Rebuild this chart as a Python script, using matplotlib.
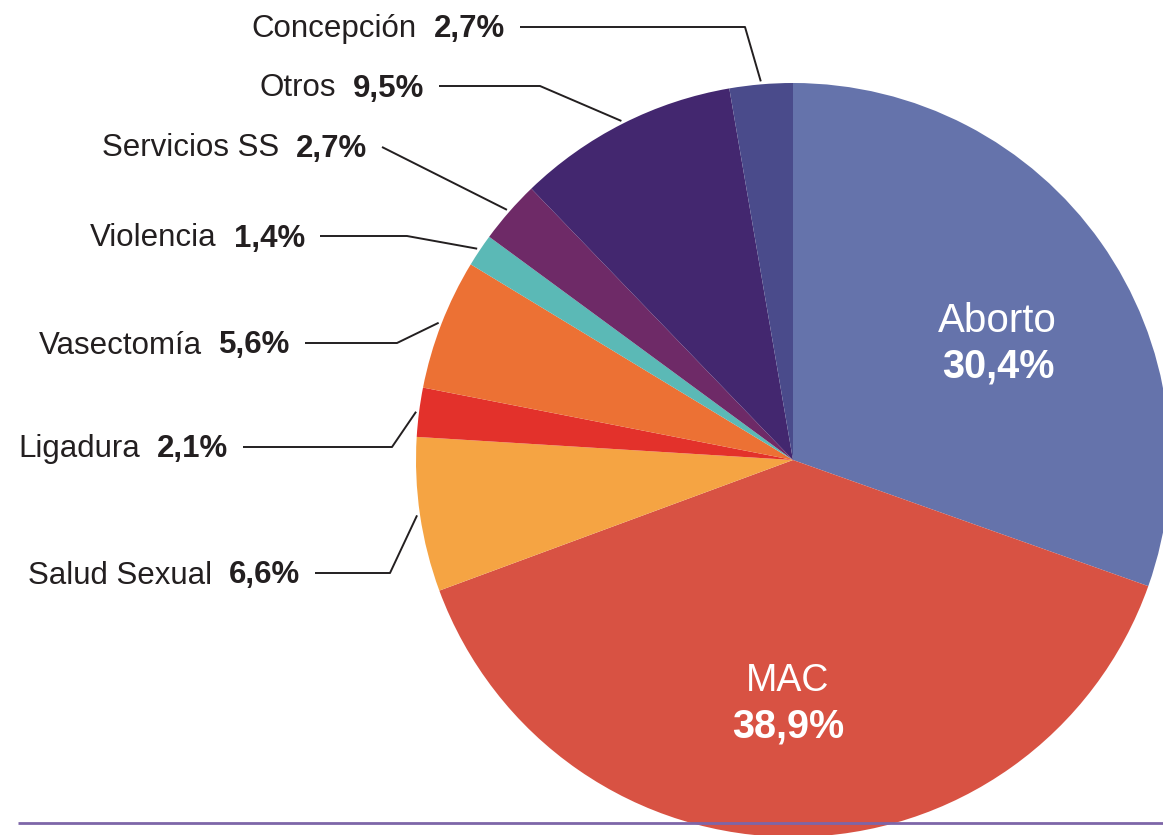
import numpy as np
import matplotlib
matplotlib.use('Agg')
import matplotlib.pyplot as plt

# datos (en el orden del gráfico, desde arriba en sentido horario)
categorias = ['Aborto', 'MAC', 'Salud Sexual', 'Ligadura', 'Vasectomía',
              'Violencia', 'Servicios SS', 'Otros', 'Concepción']
porcentajes = [30.4, 38.9, 6.6, 2.1, 5.6, 1.4, 2.7, 9.5, 2.7]
colores = ['#6573ab', '#d85243', '#f5a443', '#e3312b', '#ec7134',
           '#5bb9b6', '#6e2a67', '#43276f', '#4a4b8b']

plt.rcParams['font.family'] = ['Liberation Sans', 'DejaVu Sans']

W, H = 1163, 835
fig = plt.figure(figsize=(W / 100, H / 100), dpi=100)
ax = fig.add_axes([0, 0, 1, 1])

cx, cy, r = 793, 460, 377
# eje y invertido: startangle=-90 + counterclock=True => arranca arriba, horario
wedges, _ = ax.pie(porcentajes, colors=colores, startangle=-90, counterclock=True,
                   center=(cx, cy), radius=r, wedgeprops=dict(linewidth=0))
ax.set_xlim(0, W)
ax.set_ylim(H, 0)
ax.axis('off')

def fmt(v):
    return f'{v:.1f}'.replace('.', ',') + '%'

# linea inferior
ax.plot([18, W], [822.5, 822.5], color='#7d66a8', lw=2, zorder=5, solid_capstyle='butt')

# etiquetas internas
ax.text(997, 332, categorias[0], color='white', fontsize=29, ha='center', va='baseline')
ax.text(998, 377, fmt(porcentajes[0]), color='white', fontsize=28.5, fontweight='bold',
        ha='center', va='baseline')
ax.text(788, 691, categorias[1], color='white', fontsize=27, ha='center', va='baseline')
ax.text(788, 737, fmt(porcentajes[1]), color='white', fontsize=28.5, fontweight='bold',
        ha='center', va='baseline')

# etiquetas externas: borde derecho del texto, y, codo de la linea
lados = {
    'Concepción': (505, 27, 745),
    'Otros': (424, 86, 540),
    'Servicios SS': (367, 146, None),
    'Violencia': (305, 236, 407),
    'Vasectomía': (290, 343, 397),
    'Ligadura': (228, 447, 392),
    'Salud Sexual': (300, 573, 390),
}
txt_col = '#231f20'
fs = 22.5
pcts = {}
for cat, (xr, y, codo) in lados.items():
    i = categorias.index(cat)
    pcts[cat] = ax.text(xr, y + 10.5, fmt(porcentajes[i]), fontsize=fs, fontweight='bold',
                        color=txt_col, ha='right', va='baseline')

fig.canvas.draw()
for cat, (xr, y, codo) in lados.items():
    i = categorias.index(cat)
    bb = pcts[cat].get_window_extent()
    ax.text(bb.x0 - 17, y + 10.5, cat, fontsize=fs, color=txt_col, ha='right', va='baseline')
    w = wedges[i]
    ang = np.deg2rad((w.theta1 + w.theta2) / 2)
    ex, ey = cx + (r + 3) * np.cos(ang), cy + (r + 3) * np.sin(ang)
    x0 = xr + 15
    if codo is None:
        xs, ys = [x0, ex], [y + 1, ey]
    else:
        xs, ys = [x0, codo, ex], [y, y, ey]
    ax.plot(xs, ys, color=txt_col, lw=1.4, solid_capstyle='butt')

fig.savefig('out.png', dpi=100)
